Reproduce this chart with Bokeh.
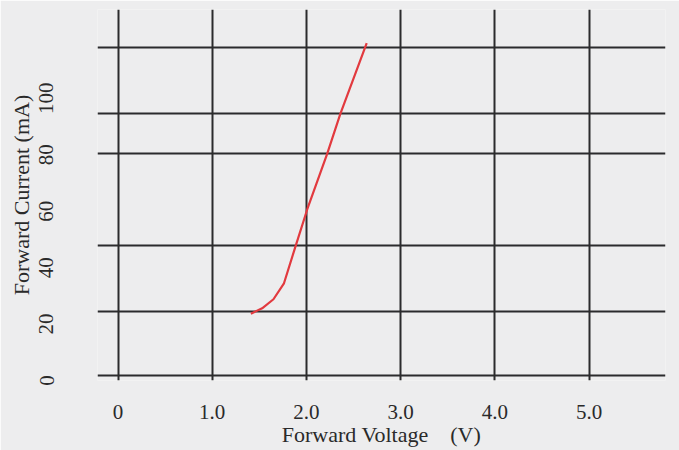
from bokeh.plotting import figure
from bokeh.models import Range1d, FixedTicker
from bokeh.embed import file_html
from bokeh.resources import INLINE

# Data
voltage = [1.41, 1.53, 1.65, 1.76, 1.88, 2.01, 2.22, 2.36, 2.64]        # V
current = [23.7, 25.6, 28.8, 34.3, 47.1, 60.8, 80.3, 94.5, 119.6]       # mA

x_ticks = [0, 1, 2, 3, 4, 5]
x_tick_labels = ["0", "1.0", "2.0", "3.0", "4.0", "5.0"]
y_ticks = [0, 20, 40, 60, 80, 100]
y_tick_labels = ["0", "20", "40", "60", "80", "100"]
# horizontal ruled lines of the paper (in mA units of the axis)
h_lines = [1.6, 24.3, 48.0, 80.5, 94.5, 117.9]

FONT = "Liberation Serif"
PAPER = "#ededee"
LINE = "#2b2b2d"

p = figure(width=679, height=450, output_backend="svg", toolbar_location=None,
           x_range=Range1d(-0.218, 5.812), y_range=Range1d(0, 131.5),
           min_border_left=97, min_border_right=14, min_border_top=9,
           min_border_bottom=70)

p.background_fill_color = PAPER
p.border_fill_color = PAPER
p.outline_line_color = None

# x axis
p.xaxis.ticker = FixedTicker(ticks=x_ticks)
p.xaxis.major_label_overrides = {t: l for t, l in zip(x_ticks, x_tick_labels)}
p.xaxis.axis_label = "Forward Voltage\u00a0\u00a0\u00a0\u00a0(V)"
# y axis
p.yaxis.ticker = FixedTicker(ticks=y_ticks)
p.yaxis.major_label_overrides = {t: l for t, l in zip(y_ticks, y_tick_labels)}
p.yaxis.axis_label = "Forward Current (mA)"
p.yaxis.major_label_orientation = "vertical"

for ax in (p.xaxis, p.yaxis):
    ax.axis_line_color = None
    ax.major_tick_line_color = None
    ax.minor_tick_line_color = None
    ax.major_tick_out = 0
    ax.major_tick_in = 0
    ax.major_label_text_font = FONT
    ax.major_label_text_font_size = "21px"
    ax.major_label_text_color = "#2a2a2a"
    ax.axis_label_text_font = FONT
    ax.axis_label_text_font_size = "22px"
    ax.axis_label_text_font_style = "normal"
    ax.axis_label_text_color = "#2a2a2a"

p.xaxis.major_label_standoff = 24
p.xaxis.axis_label_standoff = 0
p.yaxis.major_label_standoff = 44
p.yaxis.axis_label_standoff = 3

# grid: vertical lines at voltage ticks, horizontal ruled lines
p.xgrid.ticker = FixedTicker(ticks=x_ticks)
p.xgrid.grid_line_color = LINE
p.xgrid.grid_line_width = 2
p.ygrid.ticker = FixedTicker(ticks=h_lines)
p.ygrid.grid_line_color = LINE
p.ygrid.grid_line_width = 2

# I-V curve
p.line(voltage, current, line_color="#e23a3f", line_width=2.2)

open("out.html", "w").write(file_html(p, INLINE))
